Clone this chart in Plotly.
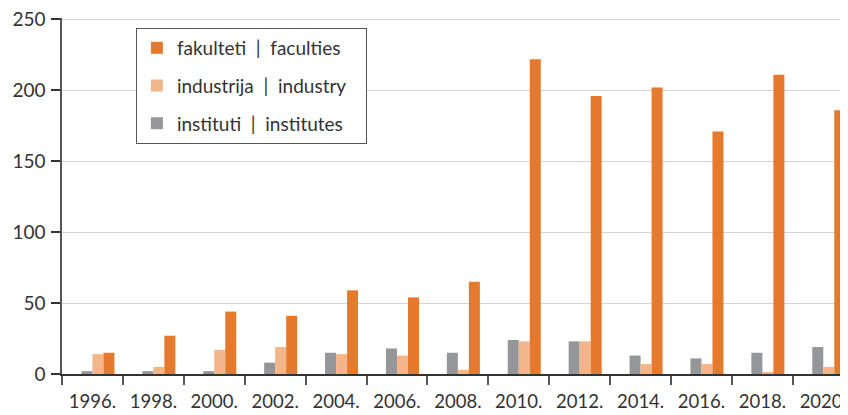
import plotly.graph_objects as go

years = ["1996.", "1998.", "2000.", "2002.", "2004.", "2006.", "2008.",
         "2010.", "2012.", "2014.", "2016.", "2018.", "2020."]
faculties = [15, 27, 44, 41, 59, 54, 65, 222, 196, 202, 171, 211, 186]
industry = [14, 5, 17, 19, 14, 13, 3, 23, 23, 7, 7, 1.5, 5]
institutes = [2, 2, 2, 8, 15, 18, 15, 24, 23, 13, 11, 15, 19]
spacer = [None] * len(years)
y_ticks = [0, 50, 100, 150, 200, 250]

name_fac = "fakulteti\u00a0\u00a0|\u00a0\u00a0faculties"
name_ind = "industrija\u00a0\u00a0|\u00a0\u00a0industry\u00a0\u00a0\u00a0"
name_ins = "instituti\u00a0\u00a0|\u00a0\u00a0institutes"

C_FAC = "#E57A2F"
C_IND = "#F3B68A"
C_INS = "#959699"
FONT = "Lato"
TXT = "#333333"

fig = go.Figure()
fig.add_bar(x=years, y=spacer, name="", showlegend=False, marker_color="rgba(0,0,0,0)",
            hoverinfo="skip")
fig.add_bar(x=years, y=institutes, name=name_ins, marker_color=C_INS, marker_line_width=0,
            legendgroup="c", legendrank=3)
fig.add_bar(x=years, y=industry, name=name_ind, marker_color=C_IND, marker_line_width=0,
            legendgroup="b", legendrank=2)
fig.add_bar(x=years, y=faculties, name=name_fac, marker_color=C_FAC, marker_line_width=0,
            legendgroup="a", legendrank=1)

# page body has an 8px margin, so the figure is drawn 8px smaller/offset
fig.update_layout(
    width=840, height=407,
    margin=dict(l=54, r=0, t=10, b=41),
    paper_bgcolor="white", plot_bgcolor="white",
    barmode="group", bargap=0.277, bargroupgap=0,
    font=dict(family=FONT, size=19, color=TXT),
    legend=dict(
        x=0.094, y=0.972, xanchor="left", yanchor="top",
        bgcolor="white", bordercolor="#555555", borderwidth=1,
        font=dict(family=FONT, size=19, color=TXT),
        traceorder="grouped", tracegroupgap=10,
    ),
    xaxis=dict(
        type="category", range=[-0.5, 12.406],
        showline=True, linecolor="#333333", linewidth=1.5,
        ticks="outside", tickson="boundaries", ticklen=9, tickcolor="#555555", tickwidth=1.5,
        showgrid=False, ticklabelstandoff=10,
        tickfont=dict(family=FONT, size=18.5, color=TXT),
    ),
    yaxis=dict(
        range=[0, 251], tickvals=y_ticks,
        showline=True, linecolor="#555555", linewidth=1.5,
        ticks="outside", ticklen=9, tickcolor="#333333", tickwidth=1.5,
        showgrid=True, gridcolor="#D4D4D4", gridwidth=1.2,
        zeroline=False, ticklabelstandoff=2, ticklabeloverflow="allow",
        tickfont=dict(family=FONT, size=19, color=TXT),
    ),
)

fig.write_html("out.html")
